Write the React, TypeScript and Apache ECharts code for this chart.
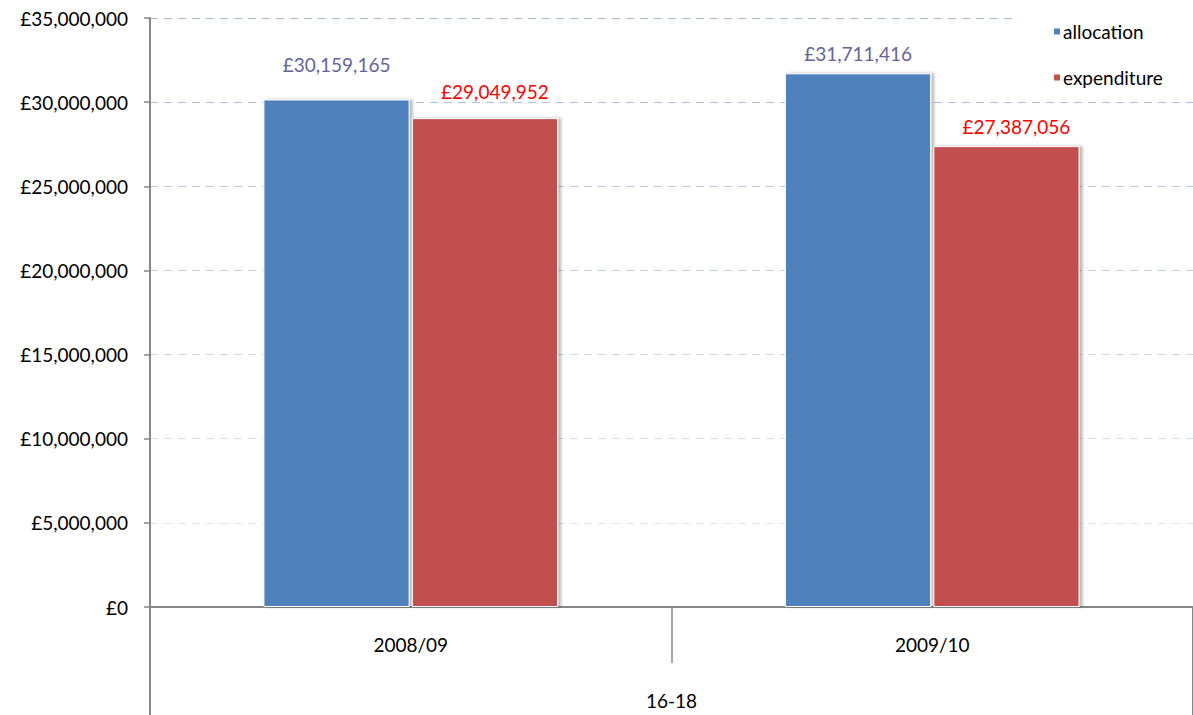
import React, { useEffect, useRef } from "react";
import * as echarts from "echarts";

const categories = ["2008/09", "2009/10"];
const groupLabel = ["16-18"];
const allocation = [30159165, 31711416];
const expenditure = [29049952, 27387056];
const yTicks = [0, 5000000, 10000000, 15000000, 20000000, 25000000, 30000000, 35000000];

const FONT = "Lato, 'Open Sans', sans-serif";

function money(v: number) {
  return "£" + Math.round(v).toLocaleString("en-GB");
}

export default function App() {
  const ref = useRef<HTMLDivElement>(null);
  useEffect(() => {
    document.body.style.margin = "0";
    const chart = echarts.init(ref.current!, undefined, { renderer: "svg" });
    const allocDist = [25, 10];
    const expDist = [17, 10];
    chart.setOption({
      animation: false,
      textStyle: { fontFamily: FONT },
      grid: { left: 150, top: 18, width: 1053, bottom: 108, containLabel: false },
      legend: {
        orient: "vertical",
        left: 1015,
        top: 9,
        backgroundColor: "#ffffff",
        padding: [13, 40, 12, 37],
        itemWidth: 8,
        itemHeight: 8,
        itemGap: 27,
        icon: "rect",
        textStyle: { fontSize: 19, color: "#000", fontFamily: FONT, padding: [0, 0, 0, -3] },
        data: ["allocation", "expenditure"],
      },
      xAxis: [
        {
          type: "category",
          data: categories,
          position: "bottom",
          axisLine: { show: true, lineStyle: { color: "#868686", width: 2 } },
          axisTick: { show: true, interval: 0, length: 56, lineStyle: { color: "#868686", width: 1.5 } },
          axisLabel: { margin: 28, fontSize: 19, color: "#000", fontFamily: FONT },
        },
        {
          type: "category",
          data: groupLabel,
          position: "bottom",
          axisLine: { show: false },
          axisTick: { show: true, length: 110, lineStyle: { color: "#868686", width: 2 } },
          axisLabel: { margin: 84, fontSize: 19, color: "#000", fontFamily: FONT },
        },
      ],
      yAxis: {
        type: "value",
        min: 0,
        max: 35000000,
        interval: 5000000,
        axisLine: { show: true, lineStyle: { color: "#868686", width: 2 } },
        axisTick: { show: true, length: 6, lineStyle: { color: "#868686", width: 1.5 } },
        axisLabel: {
          margin: 22,
          fontSize: 19,
          color: "#000",
          fontFamily: FONT,
          formatter: (v: number) => (yTicks.includes(v) ? money(v) : ""),
        },
        splitLine: {
          show: true,
          lineStyle: {
            type: [8, 6],
            width: 1.2,
            color: ["#ffffff", "#dfe5f2", "#d6def0", "#ccd7ee", "#c2cfeb", "#b8c8e8", "#aec0e4", "#a4b9e1"],
          },
        },
      },
      series: [
        {
          name: "allocation",
          type: "bar",
          xAxisIndex: 0,
          barGap: "1.5%",
          barCategoryGap: "43.5%",
          itemStyle: {
            color: "#4f81bd",
            borderColor: "#ffffff",
            borderWidth: 1,
            shadowColor: "rgba(0,0,0,0.28)",
            shadowOffsetX: 3,
            shadowOffsetY: 0,
            shadowBlur: 3,
          },
          label: {
            show: true,
            position: "top",
            fontSize: 19,
            color: "#64649a",
            fontFamily: FONT,
            formatter: (p: any) => money(p.value),
          },
          data: allocation.map((v, i) => ({ value: v, label: { distance: allocDist[i] } })),
        },
        {
          name: "expenditure",
          type: "bar",
          xAxisIndex: 0,
          barGap: "1.5%",
          barCategoryGap: "43.5%",
          itemStyle: {
            color: "#c0504d",
            borderColor: "#ffffff",
            borderWidth: 1,
            shadowColor: "rgba(0,0,0,0.28)",
            shadowOffsetX: 3,
            shadowOffsetY: 0,
            shadowBlur: 3,
          },
          label: {
            show: true,
            position: "top",
            fontSize: 19,
            color: "#ff0000",
            fontFamily: FONT,
            offset: [10, 0],
            formatter: (p: any) => money(p.value),
          },
          data: expenditure.map((v, i) => ({ value: v, label: { distance: expDist[i] } })),
        },
      ],
    });
    return () => chart.dispose();
  }, []);
  return <div ref={ref} style={{ position: "absolute", left: 0, top: 0, width: 1193, height: 715 }} />;
}
